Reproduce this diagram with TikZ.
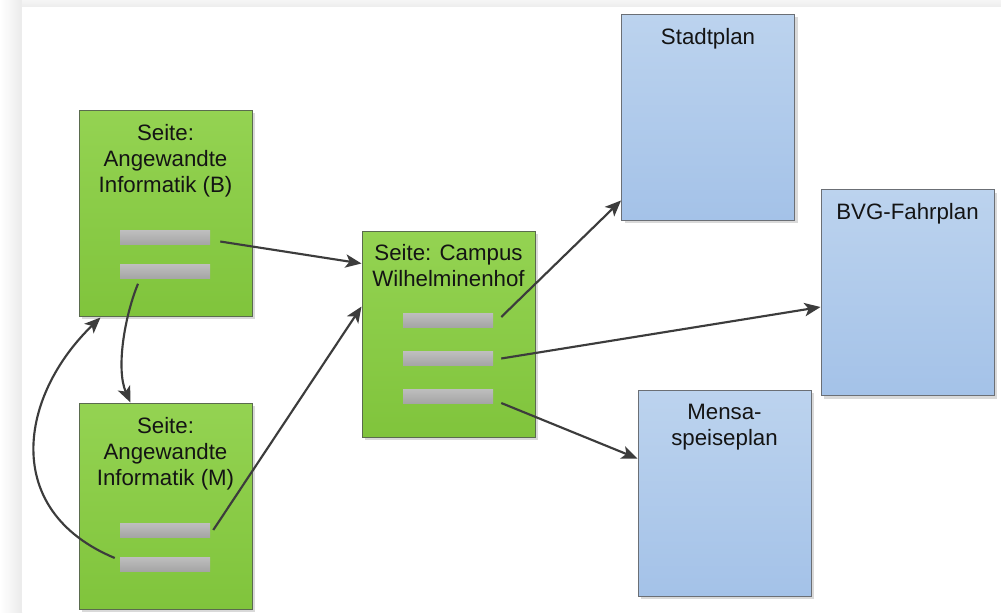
\documentclass[tikz,border=0pt]{standalone}
\usepackage{fontspec}
\setmainfont{Liberation Sans}
\usetikzlibrary{arrows.meta,calc,shadows}
\definecolor{gtop}{HTML}{94D352}
\definecolor{gbot}{HTML}{80C43C}
\definecolor{btop}{HTML}{BCD3EE}
\definecolor{bbot}{HTML}{A4C2E8}
\definecolor{gbord}{HTML}{5A6B4E}
\definecolor{bbord}{HTML}{6B6F75}
\definecolor{bartop}{HTML}{BEBEBE}
\definecolor{barbot}{HTML}{A5A5A5}
\definecolor{arr}{HTML}{3C3C3C}
\definecolor{txt}{HTML}{141414}
\begin{document}
\begin{tikzpicture}[x=0.75pt,y=-0.75pt,
  boxbase/.style={rectangle, line width=0.75pt, minimum width=129.75pt,
    minimum height=154.5pt, inner sep=0pt,
    drop shadow={shadow xshift=2.5pt, shadow yshift=-2.5pt, opacity=0.15, fill=black}},
  greenbox/.style={boxbase, draw=gbord, top color=gtop, bottom color=gbot},
  bluebox/.style={boxbase, draw=bbord, top color=btop, bottom color=bbot},
  bar/.style={rectangle, inner sep=0pt, minimum width=67.5pt, minimum height=10.5pt,
    top color=bartop, bottom color=barbot, draw=none},
  lbl/.style={anchor=north, align=center, inner sep=0pt, text=txt,
    font=\fontsize{16.7pt}{19.5pt}\selectfont},
  link/.style={draw=arr, line width=1.6pt, -{Stealth[length=12pt,width=10pt,inset=3pt]}}
]
\useasboundingbox (0,0) rectangle (1001,612);
% page background
\shade[left color=white, right color=black!8] (0,0) rectangle (22,612);
\shade[top color=black!4, bottom color=black!7] (22,0) rectangle (1001,7);
\fill[white] (22,7) rectangle (1001,612);

% boxes
\node[greenbox] (pb) at (165.5,213) {};
\node[greenbox] (pm) at (165.5,506) {};
\node[greenbox] (pc) at (448.5,334) {};
\node[bluebox] (st) at (708,117) {};
\node[bluebox] (bvg) at (907.5,292.5) {};
\node[bluebox] (me) at (724.5,493) {};

% bars
\node[bar] (b1) at (165,237.5) {};
\node[bar] (b2) at (165,271.5) {};
\node[bar] (m1) at (165,530) {};
\node[bar] (m2) at (165,564) {};
\node[bar] (c1) at (448,320) {};
\node[bar] (c2) at (448,358.5) {};
\node[bar] (c3) at (448,396) {};

% texts
\node[lbl] (tb) at ($(pb.north)+(0,14.5)$) {Seite:\\Angewandte\\Informatik (B)};
\node[lbl] (tm) at ($(pm.north)+(0,14.5)$) {Seite:\\Angewandte\\Informatik (M)};
\node[lbl] (tc) at ($(pc.north)+(0,13.5)$) {Seite: Campus\\Wilhelminenhof};
\node[lbl] (tst) at ($(st.north)+(0,14.5)$) {Stadtplan};
\node[lbl] (tbvg) at ($(bvg.north)+(0,14.5)$) {BVG-Fahrplan};
\node[lbl] (tme) at ($(me.north)+(0,14.5)$) {Mensa-\\speiseplan};

% connectors
\draw[link] ($(b1.east)+(10,4)$) -- ($(pc.north west)+(0,33)$);
\draw[link] ($(b2.south)+(-27,5)$) .. controls (124,318) and (116,370) .. ($(pm.north west)+(52,0)$);
\draw[link] ($(m2.west)+(-5,-6)$) .. controls (0,510) and (20,395) .. ($(pb.south west)+(22,1)$);
\draw[link] ($(m1.east)+(3,0)$) -- ($(pc.north west)+(0,76)$);
\draw[link] ($(c1.east)+(8,-3)$) -- ($(st.south west)+(0,-20)$);
\draw[link] ($(c2.east)+(8,0)$) -- ($(bvg.north west)+(0,118)$);
\draw[link] ($(c3.east)+(8,7)$) -- ($(me.north west)+(0,69)$);
\end{tikzpicture}
\end{document}
